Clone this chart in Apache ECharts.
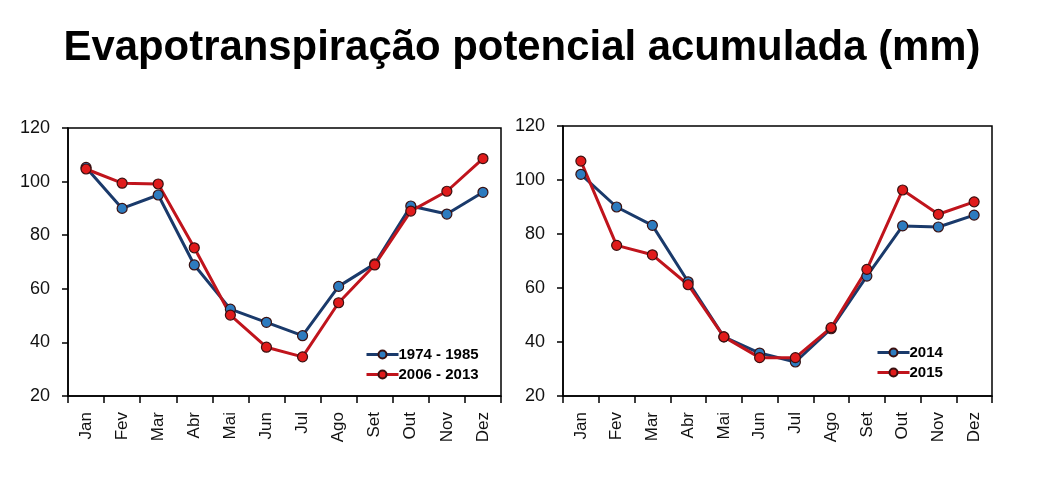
<!DOCTYPE html>
<html>
<head>
<meta charset="utf-8">
<script src="https://cdn.jsdelivr.net/npm/echarts@6/dist/echarts.min.js"></script>
<style>html,body{margin:0;padding:0;background:#fff}#c{width:1045px;height:481px}</style>
</head>
<body>
<div id="c"></div>
<script>
var months = ['Jan','Fev','Mar','Abr','Mai','Jun','Jul','Ago','Set','Out','Nov','Dez'];
var yTicks = [20, 40, 60, 80, 100, 120];
var s1974 = [105.3, 90, 95, 68.9, 52.4, 47.5, 42.5, 60.9, 69.3, 90.9, 87.9, 96];
var s2006 = [104.7, 99.4, 99.1, 75.3, 50.2, 38.2, 34.6, 54.8, 68.9, 89, 96.4, 108.6];
var s2014 = [102.1, 90, 83.2, 62.3, 41.9, 35.9, 32.6, 44.9, 64.4, 83, 82.6, 87];
var s2015 = [107, 75.8, 72.3, 61.2, 41.9, 34.2, 34.2, 45.3, 66.9, 96.3, 87.3, 91.9];
var titleText = 'Evapotranspiração potencial acumulada (mm)';

var BLUE_LINE = '#1a3a6b', BLUE_DOT = '#2d7bbf';
var RED_LINE = '#c0141c', RED_DOT = '#e01b1b';
var FONT = 'Liberation Sans';

// condensed title: measure and squeeze horizontally to the reference width
var titleFont = 'bold 42px "Liberation Sans"';
var mc = document.createElement('canvas').getContext('2d');
mc.font = titleFont;
var titleScale = 917 / mc.measureText(titleText).width;

function xAx(idx) {
  return {
    type: 'category', gridIndex: idx, data: months, boundaryGap: true,
    axisLine: {lineStyle: {color: '#000', width: 1.5}},
    axisTick: {show: true, inside: false, length: 7, lineStyle: {color: '#000', width: 1.5}},
    axisLabel: {rotate: 90, margin: 16, fontSize: 17, color: '#111', fontFamily: FONT},
    splitLine: {show: false}
  };
}
function yAx(idx) {
  return {
    type: 'value', gridIndex: idx, min: yTicks[0], max: yTicks[yTicks.length-1], interval: 20,
    axisLine: {show: true, lineStyle: {color: '#000', width: 1.5}},
    axisTick: {show: true, length: 6, lineStyle: {color: '#000', width: 1.5}},
    axisLabel: {margin: 18, fontSize: 18, color: '#111', fontFamily: FONT},
    splitLine: {show: false}
  };
}
function ser(name, data, idx, lc, dc) {
  return {
    name: name, type: 'line', data: data, xAxisIndex: idx, yAxisIndex: idx,
    symbol: 'circle', symbolSize: 10,
    lineStyle: {color: lc, width: 3},
    itemStyle: {color: dc, borderColor: '#3a1010', borderWidth: 1.2},
    emphasis: {disabled: true}, animation: false
  };
}
function leg(names, left, top) {
  return {
    data: names, orient: 'vertical', left: left, top: top, itemWidth: 32, itemHeight: 10, itemGap: 5,
    lineStyle: {width: 3},
    textStyle: {fontFamily: FONT, fontWeight: 'bold', fontSize: 15, color: '#000', padding: [0,0,0,-5]}
  };
}
var chart = echarts.init(document.getElementById('c'), null, {renderer: 'canvas'});
chart.setOption({
  backgroundColor: '#fff',
  animation: false,
  graphic: [{
    type: 'text', x: 522, y: 48, scaleX: titleScale, scaleY: 1,
    style: {text: titleText, font: titleFont, fill: '#000', align: 'center', verticalAlign: 'middle'}
  }],
  grid: [
    {left: 68, right: 544, top: 128, bottom: 85, show: true, borderColor: '#000', borderWidth: 1.5, containLabel: false},
    {left: 563, right: 53, top: 126, bottom: 85, show: true, borderColor: '#000', borderWidth: 1.5, containLabel: false}
  ],
  xAxis: [xAx(0), xAx(1)],
  yAxis: [yAx(0), yAx(1)],
  legend: [leg(['1974 - 1985', '2006 - 2013'], 360, 342), leg(['2014', '2015'], 871, 340)],
  series: [
    ser('1974 - 1985', s1974, 0, BLUE_LINE, BLUE_DOT),
    ser('2006 - 2013', s2006, 0, RED_LINE, RED_DOT),
    ser('2014', s2014, 1, BLUE_LINE, BLUE_DOT),
    ser('2015', s2015, 1, RED_LINE, RED_DOT)
  ]
});
</script>
</body>
</html>
